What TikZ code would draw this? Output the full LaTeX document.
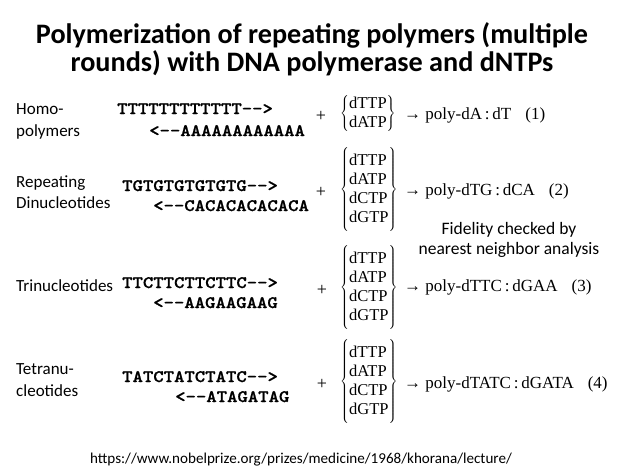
\documentclass[tikz,border=0pt]{standalone}
\usepackage{fontspec}
\setmainfont{Carlito}
\newfontfamily\seqfont[FakeStretch=1.13, FakeBold=1]{lmmonolt10-bold.otf}
\newfontfamily\chemfont{Liberation Serif}
\usetikzlibrary{positioning}

\tikzset{
  label text/.style={anchor=base west, inner sep=0pt, font=\fontsize{17}{20}\selectfont},
  strand/.style={anchor=base west, inner sep=0pt, font=\seqfont\fontsize{17.5}{20}\selectfont},
  plus sign/.style={inner sep=0pt, font=\chemfont\fontsize{18}{20}\selectfont},
  dntp set/.style={anchor=west, inner sep=0pt, font=\chemfont\fontsize{16.5}{19}\selectfont},
  product/.style={anchor=base west, inner sep=0pt, font=\chemfont\fontsize{17}{20}\selectfont},
  note text/.style={anchor=base, inner sep=0pt, font=\fontsize{17.5}{20}\selectfont}
}
\newcommand{\twoset}{$\left\{\rule[-15pt]{0pt}{38pt}\begin{tabular}{@{}l@{}}dTTP\\dATP\end{tabular}\right\}$}
\newcommand{\fourset}{$\left\{\rule[-38pt]{0pt}{84pt}\begin{tabular}{@{}l@{}}dTTP\\dATP\\dCTP\\dGTP\end{tabular}\right\}$}

\begin{document}
\begin{tikzpicture}[x=1pt, y=-1pt]
    \useasboundingbox[fill=white] (0,0) rectangle (625,469);
    \renewcommand{\arraystretch}{1}

    % Titre
    \node[font=\bfseries\fontsize{28.2}{28}\selectfont, align=center, inner sep=0pt] (title) at (312,49)
        {Polymerization of repeating polymers (multiple\\rounds) with DNA polymerase and dNTPs};

    % Homopolymeres
    \node[label text] (homoA) at (16,114) {Homo-};
    \node[label text] (homoB) at (16,136) {polymers};
    \node[strand] (homoTop) at (117,114) {TTTTTTTTTTTT-{}->};
    \node[strand] (homoBot) at (149,136) {<-{}-AAAAAAAAAAAA};
    \node[plus sign] (plusA) at (321,116) {+};
    \node[dntp set] (setA) at (340,114) {\twoset};
    \node[product] (prodA) at (404,119) {→ poly-dA\,:\,dT\hspace{14pt}(1)};

    % Dinucleotides
    \node[label text] (diA) at (16,187) {Repeating};
    \node[label text] (diB) at (16,208) {Dinucleotides};
    \node[strand] (diTop) at (122,191) {TGTGTGTGTGTG-{}->};
    \node[strand] (diBot) at (153,211) {<-{}-CACACACACACA};
    \node[plus sign] (plusB) at (321,192) {+};
    \node[dntp set] (setB) at (340,190) {\fourset};
    \node[product] (prodB) at (404,195) {→ poly-dTG\,:\,dCA\hspace{14pt}(2)};

    % Fidelite
    \node[note text] (fidA) at (509,234) {Fidelity checked by};
    \node[note text] (fidB) at (509,254) {nearest neighbor analysis};

    % Trinucleotides
    \node[label text] (triA) at (16,291) {Trinucleotides};
    \node[strand] (triTop) at (122,288) {TTCTTCTTCTTC-{}->};
    \node[strand] (triBot) at (153,308) {<-{}-AAGAAGAAG};
    \node[plus sign] (plusC) at (322,290) {+};
    \node[dntp set] (setC) at (340,288) {\fourset};
    \node[product] (prodC) at (404,291) {→ poly-dTTC\,:\,dGAA\hspace{14pt}(3)};

    % Tetranucleotides
    \node[label text] (tetA) at (16,374) {Tetranu-};
    \node[label text] (tetB) at (16,396) {cleotides};
    \node[strand] (tetTop) at (122,382) {TATCTATCTATC-{}->};
    \node[strand] (tetBot) at (175,402) {<-{}-ATAGATAG};
    \node[plus sign] (plusD) at (322,384) {+};
    \node[dntp set] (setD) at (340,382) {\fourset};
    \node[product] (prodD) at (404,388) {→ poly-dTATC\,:\,dGATA\hspace{14pt}(4)};

    % Source
    \node[note text, font=\fontsize{15.1}{16}\selectfont] (source) at (301,463)
        {https://www.nobelprize.org/prizes/medicine/1968/khorana/lecture/};
\end{tikzpicture}
\end{document}
